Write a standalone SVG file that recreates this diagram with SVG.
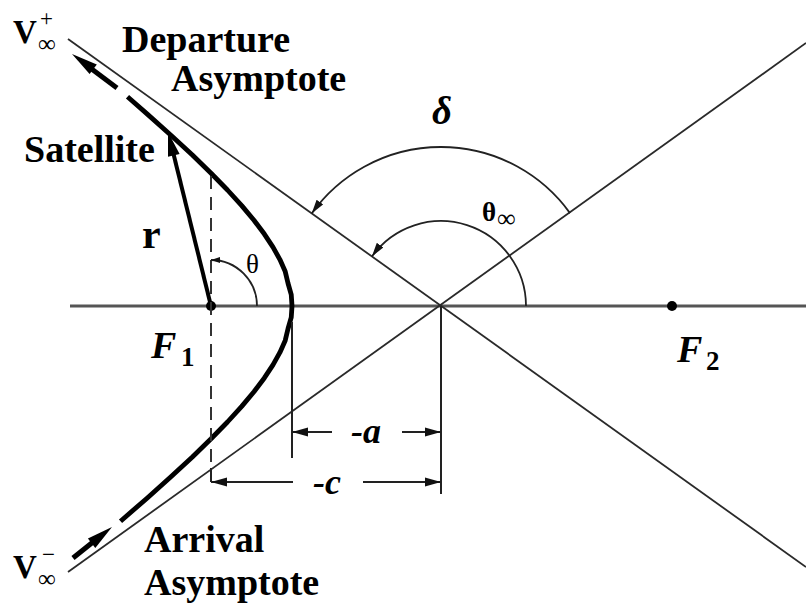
<svg xmlns="http://www.w3.org/2000/svg" width="806" height="603" viewBox="0 0 806 603">
<style>
.ln{stroke:#2a2a2a;stroke-width:1.8;fill:none}
.axis{stroke:#555;stroke-width:3;fill:none}
.dash{stroke:#333;stroke-width:2;fill:none;stroke-dasharray:13 8}
.dim{stroke:#222;stroke-width:2;fill:none}
.arc{stroke:#222;stroke-width:1.8;fill:none}
.hyp{stroke:#000;stroke-width:4.8;fill:none;stroke-linejoin:round;stroke-linecap:butt}
.vel{stroke:#000;stroke-width:5;fill:none}
.lbl{font-family:"Liberation Serif","Times New Roman",serif;font-weight:bold;fill:#000}
.math{font-family:"Liberation Serif","Times New Roman",serif;font-weight:bold;font-style:italic;fill:#000}
.sym{font-family:"Liberation Serif","DejaVu Serif",serif;font-weight:normal;font-style:normal;fill:#000}
</style>
<defs>
<marker id="dimA" markerUnits="userSpaceOnUse" markerWidth="16" markerHeight="10" refX="16" refY="5" orient="auto"><path d="M0,0.5 L16,5 L0,9.5 z" fill="#111"/></marker>
<marker id="arcA" markerUnits="userSpaceOnUse" markerWidth="15" markerHeight="10" refX="14" refY="5" orient="auto"><path d="M0,1 L14,5 L0,9 z" fill="#111"/></marker>
<marker id="thA" markerUnits="userSpaceOnUse" markerWidth="10" markerHeight="8" refX="9" refY="4" orient="auto"><path d="M0,1 L9,4 L0,7 z" fill="#111"/></marker>
</defs>

<g id="axis">
<line class="axis" x1="70" y1="306" x2="806" y2="306"/>
</g>

<g id="asymptotes">
<line id="departure-asymptote" class="ln" x1="68" y1="39" x2="806" y2="567"/>
<line id="arrival-asymptote" class="ln" x1="68" y1="572" x2="806" y2="43"/>
</g>

<g id="hyperbola">
<path class="hyp" d="M127.5,96.8 L147.33,114.08 L171.21,135.43 L192.39,155.07 L211.08,173.2 L227.47,190 L241.72,205.64 L253.98,220.28 L264.36,234.06 L272.98,247.12 L279.92,259.59 L285.24,271.59 L288.01,283.25 L291.25,294.68 L292,306 L291.25,317.32 L288.01,328.75 L285.24,340.41 L279.92,352.41 L272.98,364.88 L264.36,377.94 L253.98,391.72 L241.72,406.36 L227.47,422 L211.08,438.8 L192.39,456.93 L171.21,476.57 L147.33,497.92 L120.52,521.19"/>
</g>

<g id="velocity-departure">
<line class="vel" x1="117" y1="88" x2="91" y2="68.4"/>
<polygon points="72,54 96.8,64.4 89.6,74" fill="#000"/>
</g>
<g id="velocity-arrival">
<line class="vel" x1="73" y1="558" x2="93" y2="542"/>
<polygon points="112,527 95.3,547.9 87.9,538.5" fill="#000"/>
</g>

<g id="radius">
<line x1="211" y1="306" x2="173.5" y2="154" stroke="#000" stroke-width="4"/>
<polygon points="168,132 179.6,153.9 168,156.7" fill="#000"/>
</g>

<g id="foci">
<circle id="F1-dot" cx="211" cy="306" r="5" fill="#000"/>
<circle id="F2-dot" cx="672" cy="306" r="5" fill="#000"/>
</g>

<g id="connectors">
<line class="dash" x1="211" y1="176" x2="211" y2="468"/>
<line class="dim" x1="211" y1="468" x2="211" y2="482"/>
<line class="dim" x1="292" y1="322" x2="292" y2="458"/>
<line class="dim" x1="441" y1="306" x2="441" y2="494"/>
<line class="dim" x1="332" y1="432" x2="292" y2="432" marker-end="url(#dimA)"/>
<line class="dim" x1="402" y1="432" x2="441" y2="432" marker-end="url(#dimA)"/>
<line class="dim" x1="293" y1="482" x2="211" y2="482" marker-end="url(#dimA)"/>
<line class="dim" x1="363" y1="482" x2="441" y2="482" marker-end="url(#dimA)"/>
<path id="delta-arc" class="arc" d="M570,213.1 A159,159 0 0 0 311.7,213.4" marker-end="url(#arcA)"/>
<path id="thetainf-arc" class="arc" d="M526,306 A85,85 0 0 0 371.9,256.5" marker-end="url(#arcA)"/>
<path id="theta-arc" class="arc" d="M257,306 A46,46 0 0 0 211,260" marker-end="url(#thA)"/>
</g>

<g id="labels">
<text class="lbl" x="13" y="43" font-size="33">V<tspan class="sym" x="40" y="26" font-size="23">+</tspan><tspan class="sym" x="38" y="52" font-size="25">∞</tspan></text>
<text class="lbl" x="13" y="578" font-size="33">V<tspan class="sym" x="42" y="562" font-size="23">−</tspan><tspan class="sym" x="38" y="587" font-size="25">∞</tspan></text>
<text class="lbl" x="122" y="52" font-size="38">Departure</text>
<text class="lbl" x="171" y="91" font-size="38">Asymptote</text>
<text class="lbl" x="24" y="162" font-size="38">Satellite</text>
<text class="lbl" x="144" y="552" font-size="38">Arrival</text>
<text class="lbl" x="144" y="595" font-size="38">Asymptote</text>
<text class="lbl" x="142" y="248" font-size="42">r</text>
<text class="sym" x="246" y="273" font-size="27">θ</text>
<text class="math" x="432" y="124" font-size="39">δ</text>
<text class="lbl" x="482" y="221" font-size="27">θ<tspan class="sym" x="497" y="227" font-size="26">∞</tspan></text>
<text class="math" x="151" y="358" font-size="38">F<tspan class="lbl" font-style="normal" x="181" y="366" font-size="27">1</tspan></text>
<text class="math" x="677" y="362" font-size="38">F<tspan class="lbl" font-style="normal" x="706" y="370" font-size="27">2</tspan></text>
<text class="math" x="351" y="443" font-size="36">-a</text>
<text class="math" x="313" y="494" font-size="36">-c</text>
</g>
</svg>
